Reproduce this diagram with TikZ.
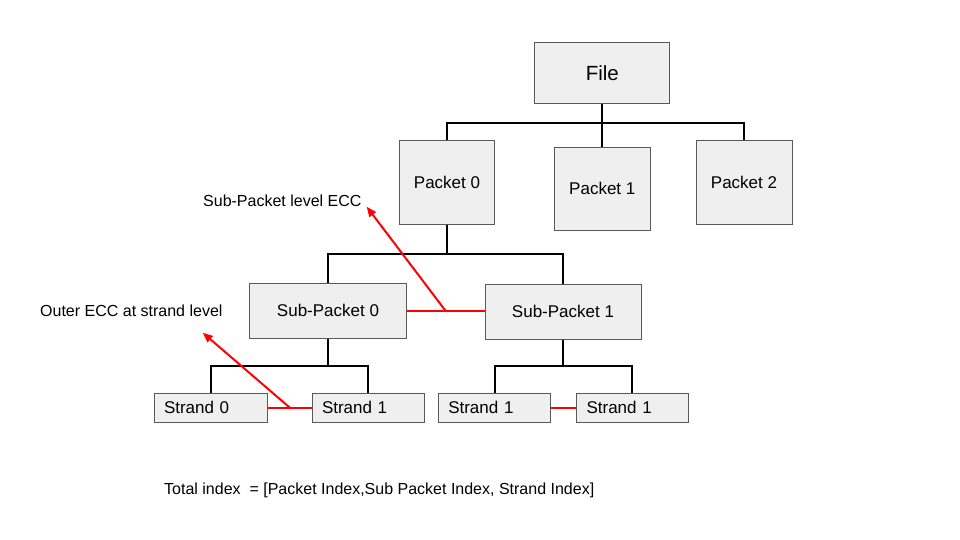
\documentclass[tikz,border=0pt]{standalone}
\usepackage{fontspec}
\setmainfont{Liberation Sans}
\usetikzlibrary{arrows.meta}
\definecolor{boxfill}{HTML}{EFEFEF}
\definecolor{boxline}{HTML}{595959}
\definecolor{eccred}{HTML}{FF0000}
\tikzset{
  box/.style={draw=boxline, fill=boxfill, line width=1pt, inner sep=0pt, font=\fontsize{17}{20}\selectfont},
  strandbox/.style={box, minimum height=29pt, text width=92pt, inner xsep=10pt, align=left},
  tree/.style={draw=black, line width=2pt},
  eccline/.style={draw=eccred, line width=2pt},
  eccarrow/.style={draw=eccred, line width=2pt, -{Triangle[length=10pt,width=8pt]}},
  note/.style={font=\fontsize{16}{19}\selectfont, inner sep=0pt},
}
\begin{document}
\begin{tikzpicture}[x=1pt,y=-1pt]
\useasboundingbox (0,0) rectangle (960,540);
\fill[white] (0,0) rectangle (960,540);

% boxes
\node[box, minimum width=135pt, minimum height=61pt, font=\fontsize{20.5}{24}\selectfont] (file) at (602.3,73.5) {File};
\node[box, minimum width=95pt, minimum height=83pt] (p0) at (447,182.5) {Packet 0};
\node[box, minimum width=96pt, minimum height=83pt] (p1) at (602.3,188.8) {Packet 1};
\node[box, minimum width=96pt, minimum height=83pt] (p2) at (744,182.5) {Packet 2};
\node[box, minimum width=157pt, minimum height=55pt] (sp0) at (328,310.7) {Sub-Packet 0};
\node[box, minimum width=156pt, minimum height=55pt] (sp1) at (563,311.7) {Sub-Packet 1};
\node[strandbox, text width=93pt] (s0) at (210.5,407.8) {Strand 0};
\node[strandbox, text width=92pt] (s1) at (368,407.8) {Strand 1};
\node[strandbox, text width=92.5pt] (s2) at (494.5,407.8) {Strand 1};
\node[strandbox, text width=91.5pt] (s3) at (632.3,407.8) {Strand 1};

% tree connectors
\draw[tree] (file.south) -- (file.south |- 0,123.3) coordinate (fbus);
\draw[tree] (p0.north) |- (fbus) -| (p2.north);
\draw[tree] (fbus) -- (p1.north);
\draw[tree] (p0.south) -- (p0.south |- 0,253.5) coordinate (pbus);
\draw[tree] (sp0.north) |- (pbus) -| (sp1.north);
\draw[tree] (sp0.south) -- (sp0.south |- 0,366) coordinate (sbus0);
\draw[tree] (s0.north) |- (sbus0) -| (s1.north);
\draw[tree] (sp1.south) -- (sp1.south |- 0,366) coordinate (sbus1);
\draw[tree] (s2.north) |- (sbus1) -| (s3.north);

% ECC links
\draw[eccline] (sp0.east |- 0,311) -- (sp1.west |- 0,311);
\coordinate (spmid) at (445.7,311);
\coordinate (sptip) at (366.7,206.7);
\draw[eccarrow] (spmid) -- (sptip);

\draw[eccline] (s0.east) -- (s1.west);
\coordinate (smid) at (290,407.8);
\coordinate (stip) at (202.7,332.7);
\draw[eccarrow] (smid) -- (stip);

\draw[eccline] (s2.east) -- (s3.west);

% notes
\node[note, anchor=west] (subnote) at (203,201) {Sub-Packet level ECC};
\node[note, anchor=west] (outnote) at (40,310.5) {Outer ECC at strand level};
\node[note, anchor=west] (total) at (164,490.5) {Total index \ = [Packet Index,Sub Packet Index, Strand Index]};
\end{tikzpicture}
\end{document}
